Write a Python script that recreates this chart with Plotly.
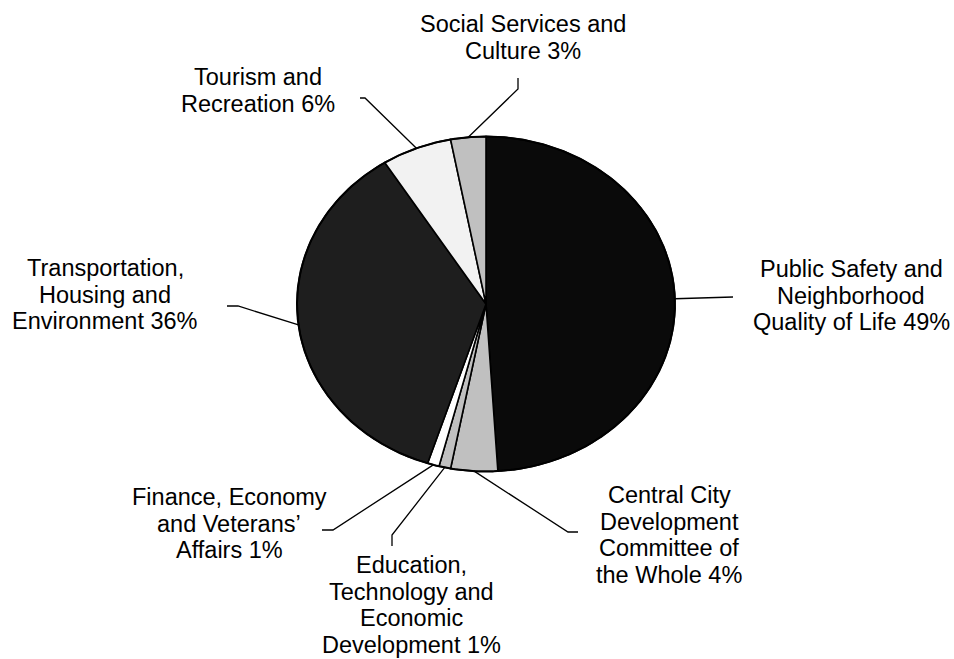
import numpy as np
import plotly.graph_objects as go

# Committee shares (percent), clockwise from 12 o'clock
committees = [
    "Public Safety and Neighborhood Quality of Life",
    "Central City Development Committee of the Whole",
    "Education, Technology and Economic Development",
    "Finance, Economy and Veterans' Affairs",
    "Transportation, Housing and Environment",
    "Tourism and Recreation",
    "Social Services and Culture",
]
shares = [49, 4, 1, 1, 36, 6, 3]

# Label text, broken into lines; the share is appended to the last line
name_lines = [
    ["Public Safety and", "Neighborhood", "Quality of Life"],
    ["Central City", "Development", "Committee of", "the Whole"],
    ["Education,", "Technology and", "Economic", "Development"],
    ["Finance, Economy", "and Veterans\u2019", "Affairs"],
    ["Transportation,", "Housing and", "Environment"],
    ["Tourism and", "Recreation"],
    ["Social Services and", "Culture"],
]

# Styling / layout (pixel space of the canvas)
fills = ["#0a0a0a", "#c0c0c0", "#c0c0c0", "#ffffff", "#1e1e1e", "#f2f2f2", "#c0c0c0"]
W, H = 954, 659
CX, CY, RX, RY = 486, 304, 189, 167.5
FONT = dict(family="Liberation Sans, Arial, sans-serif", size=23.5, color="#000000")
LINE_STEP = 26.8

label_center_x = [851, 669, 411, 229, 105, 258, 523]
label_first_baseline = [277, 503, 573, 505, 276, 85, 32]
leader_elbow = [(723, 297), (568, 532), (392, 535), (333, 530), (238, 306), (365, 98), (518, 89)]
leader_end = [(733, 297), (578, 532), (392, 546), (322, 530), (227, 306), (360, 98), (518, 78)]


def ellipse_point(deg):
    t = np.radians(deg)
    return CX + RX * np.sin(t), CY - RY * np.cos(t)


fig = go.Figure()

total = float(sum(shares))
start = 0.0
mids = []
for name, val, col in zip(committees, shares, fills):
    sweep = 360.0 * val / total
    angles = np.linspace(start, start + sweep, max(int(sweep * 2) + 2, 4))
    px, py = ellipse_point(angles)
    xs = np.concatenate([[CX], px, [CX]])
    ys = np.concatenate([[CY], py, [CY]])
    fig.add_trace(go.Scatter(
        x=xs, y=ys, mode="lines", fill="toself", fillcolor=col,
        line=dict(color="#000000", width=1.6), name=name,
        hoverinfo="skip", showlegend=False,
    ))
    mids.append(start + sweep / 2)
    start += sweep

# Outer rim drawn a touch heavier
rim = np.linspace(0, 360, 721)
rx_, ry_ = ellipse_point(rim)
fig.add_trace(go.Scatter(x=rx_, y=ry_, mode="lines", line=dict(color="#000000", width=2),
                         hoverinfo="skip", showlegend=False))

# Leader lines from each slice's mid-angle on the rim to its label
for mid, elb, end in zip(mids, leader_elbow, leader_end):
    sx, sy = ellipse_point(mid)
    fig.add_trace(go.Scatter(
        x=[sx, elb[0], end[0]], y=[sy, elb[1], end[1]], mode="lines",
        line=dict(color="#000000", width=1.3), hoverinfo="skip", showlegend=False,
    ))

# Labels, one annotation per line for tight line spacing
annotations = []
for lines, val, lx, ly in zip(name_lines, shares, label_center_x, label_first_baseline):
    text_lines = lines[:-1] + [f"{lines[-1]} {val}%"]
    for i, t in enumerate(text_lines):
        baseline = ly + i * LINE_STEP
        annotations.append(dict(
            x=lx, y=baseline - 0.35 * FONT["size"], xref="x", yref="y",
            text=t, showarrow=False, xanchor="center", yanchor="middle",
            font=FONT,
        ))

fig.update_layout(
    width=W, height=H,
    margin=dict(l=0, r=0, t=0, b=0),
    paper_bgcolor="#ffffff", plot_bgcolor="#ffffff",
    xaxis=dict(range=[0, W], visible=False, fixedrange=True),
    yaxis=dict(range=[H, 0], visible=False, fixedrange=True),
    annotations=annotations,
    showlegend=False,
)

fig.write_html("out.html")
